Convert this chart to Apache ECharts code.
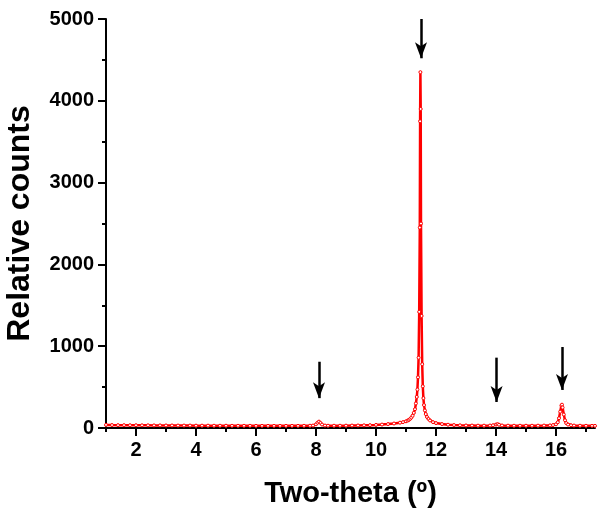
<!DOCTYPE html>
<html>
<head>
<meta charset="utf-8">
<script src="https://cdn.jsdelivr.net/npm/echarts@6/dist/echarts.min.js"></script>
<style>
html,body{margin:0;padding:0;background:#fff;}
#chart{width:599px;height:514px;}
</style>
</head>
<body>
<div id="chart"></div>
<script>
// ---- data ----
var twoTheta = [1.0,1.2,1.4,1.6,1.8,2.0,2.2,2.4,2.6,2.8,3.0,3.2,3.4,3.6,3.8,4.0,4.2,4.4,4.6,4.8,5.0,5.2,5.4,5.6,5.8,6.0,6.2,6.4,6.6,6.8,7.0,7.2,7.4,7.6,7.8,7.9,8.0,8.05,8.1,8.15,8.2,8.3,8.4,8.6,8.8,9.0,9.2,9.4,9.6,9.8,10.0,10.2,10.4,10.6,10.8,10.9,11.0,11.06,11.1,11.14,11.18,11.22,11.26,11.30,11.33,11.36,11.38,11.40,11.42,11.44,11.46,11.47,11.48,11.49,11.50,11.52,11.54,11.56,11.58,11.60,11.63,11.66,11.70,11.75,11.80,11.9,12.0,12.2,12.4,12.6,12.8,13.0,13.2,13.4,13.6,13.8,13.9,14.0,14.05,14.1,14.2,14.4,14.6,14.8,15.0,15.2,15.4,15.6,15.8,15.9,16.0,16.06,16.1,16.14,16.18,16.2,16.22,16.26,16.3,16.34,16.4,16.5,16.6,16.8,17.0,17.2,17.3];
var counts   = [38,36,35,35,34,34,33,33,32,32,31,31,30,30,30,29,29,29,28,28,28,27,27,27,27,26,26,26,26,26,26,26,26,27,28,30,45,65,78,62,42,30,28,28,28,29,30,31,33,35,38,42,48,55,65,72,82,92,100,112,128,150,185,230,300,380,470,620,860,1420,2450,3750,4350,3900,2500,1370,780,510,365,280,215,170,135,110,92,72,60,48,40,36,33,31,30,29,29,30,34,42,48,40,31,29,28,28,28,28,29,30,32,36,45,70,120,200,275,285,250,165,95,60,42,34,30,28,27,26,26];

// peaks marked by arrows: position, arrow top value, arrow tip value
var arrowX      = [8.1, 11.5, 14.02, 16.2];
var arrowTop    = [810, 5000, 860, 990];
var arrowTip    = [365, 4520, 318, 465];

var xMajorTicks = [2,4,6,8,10,12,14,16];
var xMinorTicks = [1,3,5,7,9,11,13,15,17];

var xTitle = 'Two-theta (º)';
var yTitle = 'Relative counts';

// ---- chart ----
var seriesData = twoTheta.map(function(x,i){return [x, counts[i]];});
var arrowLines = arrowX.map(function(x,i){
  return [{coord:[x, arrowTop[i]]},{coord:[x, arrowTip[i]]}];
});

var font = '"Liberation Sans", Arial, sans-serif';
var chart = echarts.init(document.getElementById('chart'), null, {renderer:'canvas'});
chart.setOption({
  animation:false,
  backgroundColor:'#fff',
  grid:{left:106,right:4,top:19,bottom:86,containLabel:false,outerBoundsMode:'none'},
  xAxis:[{
    type:'value', min:1, max:17.3,
    name:xTitle, nameLocation:'middle', nameGap:51,
    nameTextStyle:{fontFamily:font,fontWeight:'bold',fontSize:29,color:'#000'},
    axisLine:{show:true,onZero:false,lineStyle:{color:'#000',width:2}},
    axisTick:{show:true,length:8,lineStyle:{color:'#000',width:2},customValues:xMajorTicks},
    axisLabel:{show:true,margin:12,fontFamily:font,fontWeight:'bold',fontSize:20,color:'#000',customValues:xMajorTicks},
    splitLine:{show:false}
  },{
    type:'value', min:1, max:17.3, position:'bottom',
    axisLine:{show:false},
    axisTick:{show:true,length:4,lineStyle:{color:'#000',width:2},customValues:xMinorTicks},
    axisLabel:{show:false},
    splitLine:{show:false}
  }],
  yAxis:{
    type:'value', min:0, max:5000, interval:1000,
    name:yTitle, nameLocation:'middle', nameGap:70, nameRotate:90,
    nameTextStyle:{fontFamily:font,fontWeight:'bold',fontSize:32,color:'#000'},
    axisLine:{show:true,onZero:false,lineStyle:{color:'#000',width:2}},
    axisTick:{show:true,length:8,lineStyle:{color:'#000',width:2}},
    minorTick:{show:true,splitNumber:2,length:4,lineStyle:{color:'#000',width:2}},
    axisLabel:{margin:12,fontFamily:font,fontWeight:'bold',fontSize:20,color:'#000',
      formatter:function(v){return String(v);}},
    splitLine:{show:false},
    minorSplitLine:{show:false}
  },
  series:[{
    type:'line',
    xAxisIndex:0,
    data:seriesData,
    clip:false,
    showSymbol:true,
    symbol:'circle',
    symbolSize:3,
    itemStyle:{color:'#ffffff',borderColor:'#ff0000',borderWidth:1},
    lineStyle:{color:'#ff0000',width:2.5},
    markLine:{
      silent:true,
      symbol:['none','arrow'],
      symbolSize:[9,16],
      label:{show:false},
      lineStyle:{color:'#000',width:2.5,type:'solid'},
      data:arrowLines
    }
  }]
});
</script>
</body>
</html>
